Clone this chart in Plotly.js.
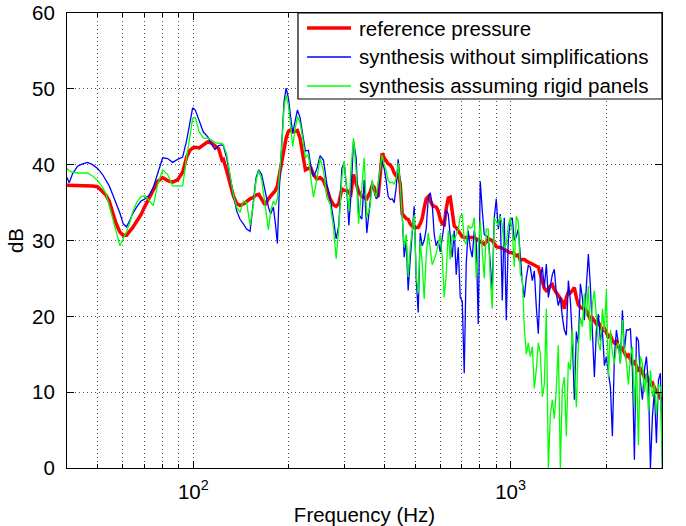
<!DOCTYPE html>
<html>
<head>
<meta charset="utf-8">
<script src="https://cdn.plot.ly/plotly-3.0.1.min.js"></script>
<style>html,body{margin:0;padding:0;background:#fff;}#chart{width:686px;height:526px;}</style>
</head>
<body>
<div id="chart"></div>
<script>
// Frequency (Hz), shared by the three curves
const freq = [
  40, 40.64, 41.64, 43.18, 44.78, 46.43, 48.15, 49.93, 51.78, 53.05, 54.35, 55.68, 57.04, 58.73, 60.16, 61.64, 63.14, 64.38, 66.28, 68.40,
  70.59, 72.66, 74.81, 77.21, 80.07, 83.03, 86.08, 89.27, 92.57, 95.30, 97.63, 99.54, 101.49, 104.48, 107.56, 111.00, 113.72, 117.07, 120.23, 123.18,
  124.4, 127.4, 130.5, 133.7, 137.0, 140.4, 143.8, 147.3, 151.0, 154.7, 157.7, 160.8, 164.3, 168.3, 172.5, 175.4, 178.8, 181.5, 184.1, 186.8,
  190.0, 193.2, 196.1, 199.4, 202.8, 205.8, 209.3, 212.9, 217.0, 221.3, 225.6, 230.6, 234.6, 239.2, 245.0, 251.0, 257.2, 263.5, 270.0, 276.6,
  282.0, 287.5, 293.9, 298.9, 304.8, 309.2, 313.7, 319.8, 326.1, 331.7, 339.8, 345.6, 352.3,
  361.0, 366.3, 371.6, 377.1, 382.6, 388.2, 393.8, 399.6, 405.4, 411.4, 417.4, 423.5, 429.7, 436.0, 442.3, 448.8, 455.4, 462.0, 468.8, 475.6,
  482.6, 489.6, 496.8, 504.1, 511.5, 518.9, 526.5, 534.2, 542.0, 550.0, 558.0, 566.2, 574.5, 582.9, 591.4, 600.1, 608.9, 617.8, 626.8, 636.0,
  645.3, 654.7, 664.3, 674.0, 683.9, 693.9, 704.0, 714.3, 724.8, 735.4, 746.2, 757.1, 768.2, 779.4, 790.8, 802.4, 814.1, 826.0, 838.1, 850.4,
  862.8, 875.4, 888.2, 901.2, 914.4, 927.8, 941.4, 955.2, 969.1, 983.3, 997.7, 1012.3, 1027.1, 1042.1, 1057.4,
  1073.0, 1088.7, 1104.6, 1120.8, 1137.2, 1153.8, 1170.7, 1187.8, 1205.2, 1222.8, 1240.7, 1258.9, 1277.3, 1296.0, 1315.0, 1334.2, 1353.7, 1373.5, 1393.6, 1414.0,
  1434.7, 1455.7, 1477.0, 1498.6, 1520.5, 1542.8, 1565.4, 1588.3, 1611.5, 1635.1, 1659.0, 1683.3, 1707.9, 1732.9, 1758.3, 1784.0, 1810.1, 1836.6, 1863.5, 1890.7,
  1918.4, 1946.5, 1975.0, 2003.9, 2033.2, 2062.9, 2093.1, 2123.7, 2154.8, 2186.3, 2218.3, 2250.8, 2283.7, 2317.1, 2351.0, 2385.4, 2420.3, 2455.7, 2491.6, 2528.1,
  2565.1, 2602.6, 2640.7, 2679.3, 2718.5, 2758.3, 2798.7, 2839.6, 2881.2, 2923.3, 2966.1, 3009.5
];

// reference pressure (dB)
const referencePressure = [
  37.3, 37.3, 37.2, 37.2, 37.2, 37.2, 37.2, 37.1, 36.5, 36.0, 35.2, 33.6, 32.3, 31.1, 30.7, 30.7, 31.2, 31.7, 32.5, 33.4,
  34.6, 35.7, 36.6, 37.8, 38.3, 37.9, 37.7, 38.0, 39.0, 41.0, 41.9, 42.2, 42.3, 42.2, 42.6, 43.0, 42.9, 42.5, 42.1, 40.6,
  40.7, 39.2, 37.4, 35.9, 34.9, 34.6, 34.8, 35.2, 35.5, 35.7, 36.0, 36.1, 35.5, 34.7, 35.5, 35.9, 36.3, 36.6, 37.2, 38.5,
  40.0, 42.0, 43.5, 44.4, 44.6, 44.3, 44.4, 44.5, 43.5, 41.4, 39.3, 39.5, 39.6, 38.7, 38.1, 38.3, 37.9, 36.8, 35.5, 34.7,
  34.5, 34.9, 36.8, 36.6, 36.6, 36.3, 36.1, 38.7, 37.6, 36.5, 35.8, 35.6, 35.5,
  36.4, 37.3, 37.0, 36.0, 35.8, 38.7, 41.5, 40.9, 40.5, 40.1, 40.0, 39.6, 38.9, 38.5, 38.6, 37.5, 33.5, 33.1, 32.9, 32.8,
  32.2, 31.9, 31.7, 31.7, 31.7, 32.2, 32.9, 34.3, 35.5, 35.8, 35.2, 34.7, 34.5, 34.4, 33.9, 32.8, 32.2, 32.1, 34.2, 35.6,
  35.7, 33.9, 31.9, 31.7, 31.3, 30.8, 30.5, 30.4, 30.4, 30.4, 30.5, 30.5, 30.4, 30.2, 30.0, 29.8, 29.6, 29.5, 29.8, 30.2,
  30.1, 30.0, 29.6, 29.2, 29.1, 29.1, 29.0, 28.8, 28.6, 28.5, 28.4, 28.4, 28.2, 28.0, 28.1,
  27.4, 27.5, 27.5, 27.3, 27.1, 27.0, 26.9, 26.7, 26.6, 26.5, 25.6, 24.6, 23.7, 23.4, 23.6, 24.0, 24.2, 23.5, 23.1, 22.8,
  22.4, 22.0, 21.0, 22.5, 23.2, 23.1, 23.4, 23.8, 22.5, 21.5, 21.2, 21.1, 21.0, 20.8, 20.2, 19.6, 19.8, 19.4, 19.0, 19.2,
  18.6, 18.2, 18.4, 17.8, 17.3, 17.5, 16.8, 16.5, 16.7, 16.0, 15.6, 15.8, 15.1, 14.7, 14.9, 14.2, 13.8, 14.0, 13.3, 12.9,
  13.1, 12.4, 12.0, 12.2, 11.5, 11.0, 11.2, 10.5, 10.0, 9.8, 9.2, 9.0
];

// synthesis without simplifications (dB)
const synthesisFull = [
  38.3, 37.6, 38.8, 39.8, 40.1, 40.3, 40.0, 39.5, 38.7, 38.0, 37.2, 36.1, 35.0, 33.6, 32.2, 31.8, 32.7, 33.5, 34.4, 35.2,
  35.5, 36.0, 37.0, 38.8, 40.9, 40.8, 40.3, 40.7, 41.0, 43.2, 45.8, 47.5, 47.2, 45.7, 44.3, 43.7, 42.8, 42.0, 42.5, 42.6,
  42.5, 40.9, 38.3, 36.1, 33.9, 32.8, 32.2, 31.5, 31.2, 35.7, 38.3, 39.3, 38.7, 36.6, 34.4, 33.5, 34.4, 32.2, 29.6, 37.0,
  43.5, 48.3, 50.1, 48.8, 46.2, 44.2, 45.7, 47.2, 46.2, 44.0, 41.8, 41.9, 39.8, 38.4, 39.4, 41.2, 40.6, 37.5, 35.5, 32.8,
  30.2, 32.0, 39.5, 40.3, 36.6, 32.0, 35.7, 43.1, 40.9, 33.5, 32.8, 38.0, 31.0,
  35.2, 37.8, 36.4, 35.5, 35.8, 39.5, 40.5, 39.5, 37.9, 35.8, 35.4, 35.5, 35.0, 37.0, 40.7, 37.8, 33.4, 27.8, 30.0, 23.4,
  27.5, 31.7, 34.5, 25.0, 20.5, 31.0, 29.3, 30.0, 31.5, 35.5, 36.3, 34.8, 30.8, 29.3, 30.0, 28.5, 30.5, 32.5, 34.0, 33.5,
  30.5, 27.8, 31.3, 25.5, 29.1, 22.5, 22.0, 12.5, 27.0, 31.3, 29.0, 27.8, 31.3, 29.8, 19.0, 37.8, 34.0, 30.8, 30.6, 30.5,
  27.0, 23.4, 33.0, 35.5, 31.5, 33.5, 22.1, 33.0, 19.5, 30.0, 32.6, 33.0, 30.0, 30.5, 31.5,
  27.5, 24.5, 22.5, 25.1, 26.7, 26.5, 24.7, 26.0, 21.2, 17.7, 25.1, 26.5, 23.8, 26.9, 22.5, 24.3, 25.5, 26.2, 23.0, 21.4,
  22.5, 19.9, 18.2, 17.5, 24.7, 22.1, 17.0, 9.0, 18.0, 16.4, 24.3, 22.5, 19.5, 24.0, 28.2, 24.0, 17.5, 12.0, 18.2, 20.3,
  16.8, 18.2, 13.5, 14.7, 12.5, 10.7, 4.2, 14.7, 18.2, 16.4, 13.8, 20.8, 15.5, 18.2, 18.2, 18.4, 12.9, 1.1, 17.3, 16.8,
  11.5, 9.0, 12.9, 14.7, 11.1, 0, 6.8, 10.2, 3.3, 11.6, 12.5, 0
];

// synthesis assuming rigid panels (dB)
const synthesisRigid = [
  39.5, 39.2, 39.0, 38.9, 38.9, 38.9, 38.5, 37.9, 37.0, 36.2, 34.6, 33.1, 31.3, 29.3, 30.2, 31.2, 32.4, 33.7, 35.0, 35.8,
  35.9, 35.3, 34.6, 37.4, 39.3, 38.7, 37.2, 37.2, 37.2, 41.0, 44.2, 46.1, 46.2, 44.3, 43.5, 43.5, 43.3, 42.9, 42.8, 42.8,
  42.6, 41.4, 38.7, 36.1, 34.4, 33.7, 35.2, 35.0, 32.0, 34.8, 37.9, 39.2, 38.0, 34.8, 31.4, 33.9, 35.2, 34.7, 35.5, 38.5,
  42.4, 47.5, 49.2, 47.9, 44.8, 42.4, 44.6, 46.4, 45.5, 43.5, 40.9, 41.4, 38.3, 35.7, 38.0, 40.9, 39.2, 35.7, 34.8, 31.7,
  27.6, 31.7, 38.3, 40.5, 36.6, 33.9, 39.2, 43.5, 39.2, 32.2, 37.0, 40.9, 33.1,
  34.5, 38.0, 36.5, 35.7, 37.5, 39.8, 41.3, 40.0, 39.2, 37.9, 37.6, 37.7, 37.4, 38.2, 40.2, 37.5, 33.4, 29.1, 30.8, 25.2,
  29.1, 31.3, 33.4, 25.5, 23.0, 30.0, 27.0, 22.3, 28.0, 31.0, 29.0, 26.8, 27.5, 28.3, 29.5, 30.8, 27.8, 22.5, 25.5, 31.3,
  27.5, 30.8, 30.0, 30.7, 31.5, 33.2, 33.5, 30.0, 29.5, 32.0, 31.6, 31.8, 33.0, 25.0, 29.5, 32.6, 28.6, 25.0, 31.5, 31.5,
  25.0, 21.0, 33.0, 32.5, 32.0, 33.2, 32.1, 29.0, 29.5, 32.0, 33.0, 31.3, 26.5, 33.2, 32.5,
  25.5, 25.0, 18.5, 15.0, 16.5, 14.7, 16.0, 10.5, 13.0, 16.5, 15.1, 9.4, 11.0, 21.0, 0, 7.0, 9.0, 6.5, 10.5, 16.2,
  0, 10.5, 12.0, 4.2, 14.0, 12.9, 18.2, 12.0, 8.0, 16.5, 19.9, 18.6, 23.0, 20.0, 24.0, 16.8, 21.6, 23.4, 19.5, 16.5,
  15.5, 21.0, 18.0, 23.5, 12.0, 18.2, 15.2, 13.8, 16.0, 16.5, 13.8, 19.5, 15.5, 14.0, 11.0, 14.7, 16.0, 8.0, 14.5, 3.0,
  14.7, 13.8, 10.0, 12.5, 7.5, 12.9, 9.4, 11.0, 7.0, 11.0, 10.7, 0
];

const seriesNames = ['reference pressure', 'synthesis without simplifications', 'synthesis assuming rigid panels'];
const seriesColors = ['#ff0000', '#0000ff', '#00ff00'];
const seriesWidths = [3.5, 1.3, 1.3];
const majorTicks = [100, 1000];
const majorTickText = ['10<sup>2</sup>', '10<sup>3</sup>'];
const minorTicks = [50, 60, 70, 80, 90, 200, 300, 400, 500, 600, 700, 800, 900, 2000, 3000];
const yTicks = [0, 10, 20, 30, 40, 50, 60];

const FONT = 'Liberation Sans, Arial, Helvetica, sans-serif';
const FS = 20.5;
const gridDash = '1px,3px';
const gridColor = '#555';

const seriesY = [referencePressure, synthesisFull, synthesisRigid];
const traces = seriesY.map((ys, i) => ({
  x: freq, y: ys, name: seriesNames[i], type: 'scatter', mode: 'lines',
  line: {color: seriesColors[i], width: seriesWidths[i]}, showlegend: false
}));

// Legend drawn as a boxed key in the top-right corner (paper coordinates)
const legBox = {x0: 0.3882, x1: 1, y0: 0.811, y1: 1};
const legRows = [0.967, 0.9033, 0.8396];
const legLine = {x0: 0.4034, x1: 0.4773};
const legTextX = 0.4874;

const shapes = [{
  type: 'rect', xref: 'paper', yref: 'paper',
  x0: legBox.x0, x1: legBox.x1, y0: legBox.y0, y1: legBox.y1,
  fillcolor: '#fff', line: {color: '#000', width: 1.2}, layer: 'above'
}];
const annotations = [];
seriesNames.forEach((n, i) => {
  shapes.push({type: 'line', xref: 'paper', yref: 'paper',
    x0: legLine.x0, x1: legLine.x1, y0: legRows[i], y1: legRows[i],
    line: {color: seriesColors[i], width: seriesWidths[i] + (i ? 0.2 : 0)}, layer: 'above'});
  annotations.push({xref: 'paper', yref: 'paper', x: legTextX, y: legRows[i],
    xanchor: 'left', yanchor: 'middle', showarrow: false, text: n,
    font: {family: FONT, size: FS, color: '#000'}});
});

const layout = {
  width: 686, height: 526,
  margin: {l: 67, r: 24, t: 13, b: 58, pad: 0},
  paper_bgcolor: '#fff', plot_bgcolor: '#fff',
  font: {family: FONT, size: FS, color: '#000'},
  showlegend: false,
  shapes: shapes,
  annotations: annotations,
  xaxis: {
    type: 'log',
    range: [Math.log10(40), Math.log10(3000)],
    tickmode: 'array', tickvals: majorTicks, ticktext: majorTickText,
    ticks: 'inside', ticklen: 7, tickwidth: 1, tickcolor: '#000',
    showline: true, linecolor: '#000', linewidth: 1, mirror: 'ticks',
    showgrid: true, gridcolor: gridColor, gridwidth: 1, griddash: gridDash,
    zeroline: false,
    minor: {tickmode: 'array', tickvals: minorTicks, ticks: 'inside', ticklen: 4, tickcolor: '#000',
            showgrid: true, gridcolor: gridColor, gridwidth: 1, griddash: gridDash},
    tickfont: {family: FONT, size: FS, color: '#000'},
    ticklabelstandoff: 5,
    title: {text: 'Frequency (Hz)', font: {family: FONT, size: FS, color: '#000'}, standoff: 10}
  },
  yaxis: {
    range: [0, 60],
    tickmode: 'array', tickvals: yTicks,
    ticks: 'inside', ticklen: 7, tickwidth: 1, tickcolor: '#000',
    showline: true, linecolor: '#000', linewidth: 1, mirror: 'ticks',
    showgrid: true, gridcolor: gridColor, gridwidth: 1, griddash: gridDash,
    zeroline: false,
    tickfont: {family: FONT, size: FS, color: '#000'},
    ticklabelstandoff: 7,
    title: {text: 'dB', font: {family: FONT, size: FS, color: '#000'}, standoff: 2}
  }
};

Plotly.newPlot('chart', traces, layout, {displayModeBar: false, staticPlot: true});
</script>
</body>
</html>
